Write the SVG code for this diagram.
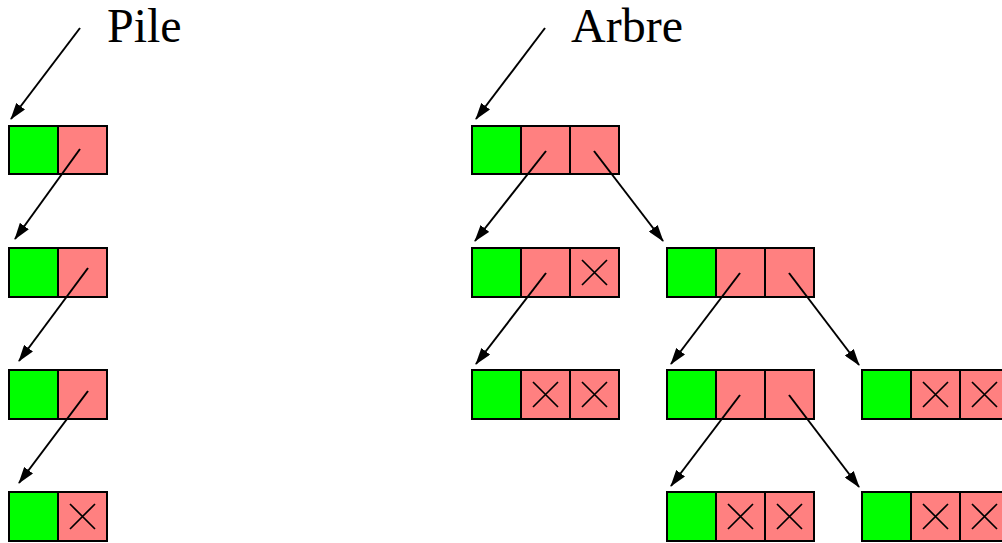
<svg xmlns="http://www.w3.org/2000/svg" width="1002" height="543" viewBox="0 0 1002 543">
<defs>
<style>
.g{fill:#00ff00;stroke:#000;stroke-width:2}
.p{fill:#ff8080;stroke:#000;stroke-width:2}
.x{stroke:#000;stroke-width:1.7;fill:none}
.a{stroke:#000;stroke-width:2;fill:none;marker-end:url(#ah)}
.t{font-family:"Liberation Serif","Times New Roman",serif;font-size:48px;fill:#000}
</style>
<marker id="ah" markerWidth="17" markerHeight="11" refX="16" refY="5.5" orient="auto" markerUnits="userSpaceOnUse" viewBox="0 0 17 11">
<path d="M0,0 L17,5.5 L0,11 z" fill="#000"/>
</marker>
<symbol id="cx" overflow="visible"><path class="x" d="M12,12 L37,37 M37,12 L12,37"/></symbol>
</defs>
<rect width="1002" height="543" fill="#fff"/>
<text class="t" x="107" y="42">Pile</text>
<text class="t" x="571" y="42">Arbre</text>
<g id="pile1"><rect class="g" x="9" y="126" width="49" height="48"/><rect class="p" x="58" y="126" width="49" height="48"/></g>
<g id="pile2"><rect class="g" x="9" y="248" width="49" height="49"/><rect class="p" x="58" y="248" width="49" height="49"/></g>
<g id="pile3"><rect class="g" x="9" y="370" width="49" height="49"/><rect class="p" x="58" y="370" width="49" height="49"/></g>
<g id="pile4"><rect class="g" x="9" y="492" width="49" height="49"/><rect class="p" x="58" y="492" width="49" height="49"/><use href="#cx" x="58" y="492"/></g>
<g id="root"><rect class="g" x="472" y="126" width="49" height="48"/><rect class="p" x="521" y="126" width="49" height="48"/><rect class="p" x="570" y="126" width="49" height="48"/></g>
<g id="n2a"><rect class="g" x="472" y="248" width="49" height="49"/><rect class="p" x="521" y="248" width="49" height="49"/><rect class="p" x="570" y="248" width="49" height="49"/><use href="#cx" x="570" y="248"/></g>
<g id="n2b"><rect class="g" x="667" y="248" width="49" height="49"/><rect class="p" x="716" y="248" width="49" height="49"/><rect class="p" x="765" y="248" width="49" height="49"/></g>
<g id="n3a"><rect class="g" x="472" y="370" width="49" height="49"/><rect class="p" x="521" y="370" width="49" height="49"/><rect class="p" x="570" y="370" width="49" height="49"/><use href="#cx" x="521" y="370"/><use href="#cx" x="570" y="370"/></g>
<g id="n3b"><rect class="g" x="667" y="370" width="49" height="49"/><rect class="p" x="716" y="370" width="49" height="49"/><rect class="p" x="765" y="370" width="49" height="49"/></g>
<g id="n3c"><rect class="g" x="862" y="370" width="49" height="49"/><rect class="p" x="911" y="370" width="49" height="49"/><rect class="p" x="960" y="370" width="49" height="49"/><use href="#cx" x="911" y="370"/><use href="#cx" x="960" y="370"/></g>
<g id="n4a"><rect class="g" x="667" y="492" width="49" height="49"/><rect class="p" x="716" y="492" width="49" height="49"/><rect class="p" x="765" y="492" width="49" height="49"/><use href="#cx" x="716" y="492"/><use href="#cx" x="765" y="492"/></g>
<g id="n4b"><rect class="g" x="862" y="492" width="49" height="49"/><rect class="p" x="911" y="492" width="49" height="49"/><rect class="p" x="960" y="492" width="49" height="49"/><use href="#cx" x="911" y="492"/><use href="#cx" x="960" y="492"/></g>
<g id="connectors">
<line class="a" x1="80" y1="28" x2="11" y2="119"/>
<line class="a" x1="80" y1="149" x2="15" y2="239"/>
<line class="a" x1="88" y1="268" x2="19" y2="361"/>
<line class="a" x1="88" y1="391" x2="19" y2="483"/>
<line class="a" x1="545" y1="28" x2="476" y2="119"/>
<line class="a" x1="546" y1="151" x2="475" y2="241"/>
<line class="a" x1="594" y1="151" x2="663" y2="241"/>
<line class="a" x1="546" y1="273" x2="476" y2="364"/>
<line class="a" x1="740" y1="273" x2="671" y2="364"/>
<line class="a" x1="789" y1="273" x2="859" y2="365"/>
<line class="a" x1="740" y1="395" x2="671" y2="486"/>
<line class="a" x1="789" y1="395" x2="859" y2="487"/>
</g>
</svg>
